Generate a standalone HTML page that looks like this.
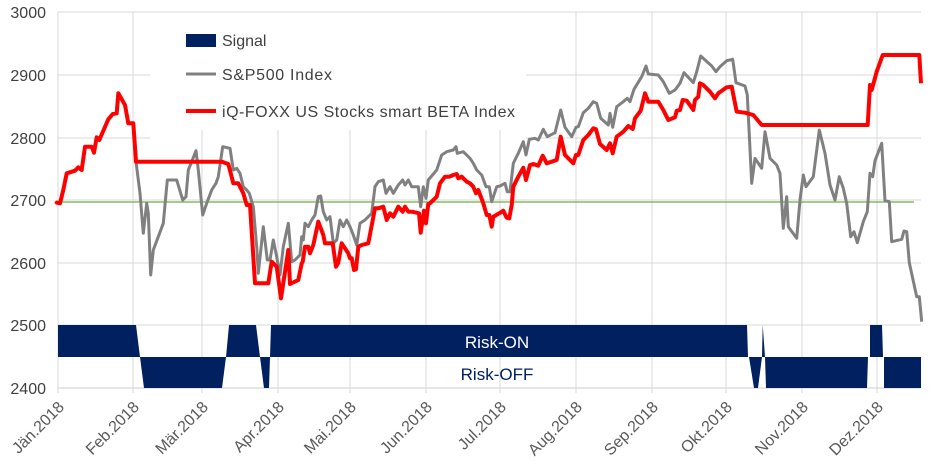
<!DOCTYPE html>
<html><head><meta charset="utf-8"><style>
html,body{margin:0;padding:0;background:#fff;}
svg{display:block;font-family:"Liberation Sans",sans-serif;}
</style></head><body>
<svg id="s" width="940" height="470" viewBox="0 0 940 470" xmlns="http://www.w3.org/2000/svg">
<g stroke="#d9d9d9" stroke-width="1">
<line x1="58" y1="12" x2="921" y2="12"/>
<line x1="58" y1="75" x2="150" y2="75"/><line x1="526" y1="75" x2="921" y2="75"/>
<line x1="58" y1="138" x2="150" y2="138"/><line x1="526" y1="138" x2="921" y2="138"/>
<line x1="58" y1="200" x2="921" y2="200"/>
<line x1="58" y1="263" x2="921" y2="263"/>
<line x1="58" y1="325" x2="921" y2="325"/>
<line x1="58" y1="388" x2="921" y2="388" stroke="#ccc"/>
<line x1="58" y1="12" x2="58" y2="393"/>
<line x1="133" y1="12" x2="133" y2="393"/>
<line x1="202" y1="130" x2="202" y2="393"/>
<line x1="278" y1="130" x2="278" y2="393"/>
<line x1="350" y1="130" x2="350" y2="393"/>
<line x1="426" y1="130" x2="426" y2="393"/>
<line x1="500" y1="130" x2="500" y2="393"/>
<line x1="576" y1="12" x2="576" y2="393"/>
<line x1="652" y1="12" x2="652" y2="393"/>
<line x1="726" y1="12" x2="726" y2="393"/>
<line x1="802" y1="12" x2="802" y2="393"/>
<line x1="877" y1="12" x2="877" y2="393"/>
</g>
<g fill="#002060">
<polygon points="58,325 136,325 140,357 58,357"/>
<polygon points="140,357 226,357 222,388 144,388"/>
<polygon points="226,357 229,325 256,325 260,357"/>
<polygon points="260,357 270,357 269,388 264,388"/>
<polygon points="270,357 271,325 747,325 748,357"/>
<polygon points="749,357 762,357 758,388 754,388"/>
<polygon points="762,357 762.7,325 765,357"/>
<polygon points="765,357 868,357 867,388 766,388"/>
<polygon points="870,357 870,325 882,325 883,357"/>
<polygon points="884,357 921,357 921,388 884,388"/>
</g>
<text x="497" y="348" fill="#fff" font-size="17" text-anchor="middle">Risk-ON</text>
<text x="497" y="380" fill="#002060" font-size="17" text-anchor="middle">Risk-OFF</text>
<line x1="58" y1="202" x2="914" y2="202" stroke="#70ad47" stroke-width="1.2"/>
<polyline id="g" fill="none" stroke="#808080" stroke-width="3" stroke-linejoin="round"/>
<polyline id="r" fill="none" stroke="#ff0000" stroke-width="4" stroke-linejoin="round"/>
<g fill="#404040" font-size="16" text-anchor="end">
<text x="46" y="18">3000</text><text x="46" y="81">2900</text><text x="46" y="144">2800</text>
<text x="46" y="206">2700</text><text x="46" y="269">2600</text><text x="46" y="331">2500</text><text x="46" y="394">2400</text>
</g>
<g fill="#595959" font-size="16" text-anchor="end">
<text transform="translate(65,408) rotate(-45)">Jän.2018</text>
<text transform="translate(140,408) rotate(-45)">Feb.2018</text>
<text transform="translate(209,408) rotate(-45)">Mär.2018</text>
<text transform="translate(285,408) rotate(-45)">Apr.2018</text>
<text transform="translate(357,408) rotate(-45)">Mai.2018</text>
<text transform="translate(433,408) rotate(-45)">Jun.2018</text>
<text transform="translate(507,408) rotate(-45)">Jul.2018</text>
<text transform="translate(583,408) rotate(-45)">Aug.2018</text>
<text transform="translate(659,408) rotate(-45)">Sep.2018</text>
<text transform="translate(733,408) rotate(-45)">Okt.2018</text>
<text transform="translate(809,408) rotate(-45)">Nov.2018</text>
<text transform="translate(884,408) rotate(-45)">Dez.2018</text>
</g>
<rect x="186" y="34" width="30" height="13" fill="#002060"/>
<line x1="186" y1="74" x2="216" y2="74" stroke="#808080" stroke-width="3"/>
<line x1="186" y1="111" x2="216" y2="111" stroke="#ff0000" stroke-width="4"/>
<g fill="#404040" font-size="16">
<text x="222" y="46">Signal</text>
<text x="222" y="80" textLength="110">S&amp;P500 Index</text>
<text x="222" y="117" textLength="293">iQ-FOXX US Stocks smart BETA Index</text>
</g>
</svg>
<script>
function t(a,ox,oy){var o=[];for(var i=0;i<a.length;i+=2)o.push((ox+a[i]/3).toFixed(1)+","+(oy+a[i+1]/3).toFixed(1));return o;}
var r3=[20,368,30,370,40,330,50,280,75,272,85,262,95,270,105,200,125,200,132,218,140,172,148,180,175,118,188,102,200,100,205,40,225,75,235,130,250,130,258,245,515,245,535,252,550,310,565,310,580,340,590,375,600,375,615,610,655,610,665,545,680,560,693,655,715,510,720,612,745,600,755,550,758,545,765,500,775,500,780,520,790,495,805,425,820,465,825,490,848,490,858,560,865,548,875,490,895,520,900,535,905,535,912,570,918,568,925,500,935,495,955,490,975,385,985,385,1000,380,1010,420,1020,400,1030,410,1045,380,1058,395,1065,380,1075,395,1085,395,1100,398,1107,400,1112,458,1122,392,1128,430,1135,372,1140,370,1160,350,1170,310,1185,290,1198,290,1210,285,1220,282,1225,295,1235,290,1250,305,1260,310,1270,320,1278,340,1285,330,1300,370,1310,405,1318,405,1325,440,1330,410,1348,400];
var r4=[40,512,50,533,58,535,65,495,70,440,85,410,100,383,108,420,120,375,130,372,145,377,158,347,170,370,200,360,212,290,225,345,250,370,258,345,265,345,280,300,295,285,310,265,318,268,330,312,350,330,360,310,368,340,380,290,400,275,415,258,428,267,435,235,452,212,465,160,475,185,505,185,520,210,535,240,555,232,560,212,570,210,578,180,590,182,610,210,615,180,625,170,630,130,640,135,660,155,675,175,685,160,710,142,725,140,740,215,765,218,790,225,815,255,1133,255,1140,135,1145,150,1160,95,1178,45,1288,45,1293,130];
var g3=[258,245,270,340,280,460,290,370,295,400,302,585,310,510,325,470,340,430,352,300,380,300,398,360,408,350,415,270,425,245,438,212,445,270,458,405,470,370,485,330,498,310,505,290,518,200,540,205,550,270,560,265,570,280,580,320,590,330,598,340,610,380,620,500,625,580,640,440,652,540,660,540,670,480,680,530,690,585,700,500,715,430,725,545,735,540,750,525,755,470,760,480,765,430,775,440,785,420,795,405,805,350,812,348,820,395,830,420,840,410,850,490,860,480,870,420,880,440,890,420,900,440,910,465,920,495,930,430,945,420,955,410,965,400,975,320,985,305,1000,300,1008,340,1020,320,1030,340,1045,315,1058,300,1065,315,1075,300,1085,320,1105,320,1112,380,1120,320,1128,355,1135,300,1160,270,1175,225,1190,215,1210,210,1218,200,1222,220,1240,215,1260,235,1270,250,1280,270,1295,285,1308,320,1318,320,1325,365,1340,320,1350,318];
var g4=[45,430,52,455,60,455,70,370,85,340,100,305,108,345,118,298,135,295,145,300,160,268,172,290,195,278,212,210,225,262,245,290,258,262,265,260,280,218,295,205,310,185,320,190,332,235,355,255,360,220,368,262,380,200,400,185,412,175,420,185,432,148,455,110,468,78,475,102,505,105,520,125,538,160,555,150,570,130,582,98,610,128,620,95,632,48,665,78,678,95,690,80,710,62,728,58,738,128,765,138,772,165,785,430,795,355,815,385,825,275,840,355,860,375,870,400,880,565,890,470,895,560,920,595,930,480,940,405,948,440,970,410,988,270,1005,340,1020,435,1035,480,1048,410,1060,445,1070,490,1082,590,1092,575,1102,608,1120,545,1132,515,1140,400,1148,410,1155,362,1175,310,1185,482,1198,485,1205,605,1235,598,1242,573,1250,575,1258,668,1280,770,1288,770,1295,845];
var rp=["58,202"].concat(t(r3,50,80),t(r4,490,40));
var gp=["58,202"].concat(t(r3.slice(0,38),50,80),t(g3,50,80),t(g4,490,40));
document.getElementById("r").setAttribute("points",rp.join(" "));
document.getElementById("g").setAttribute("points",gp.join(" "));
</script>
</body></html>
